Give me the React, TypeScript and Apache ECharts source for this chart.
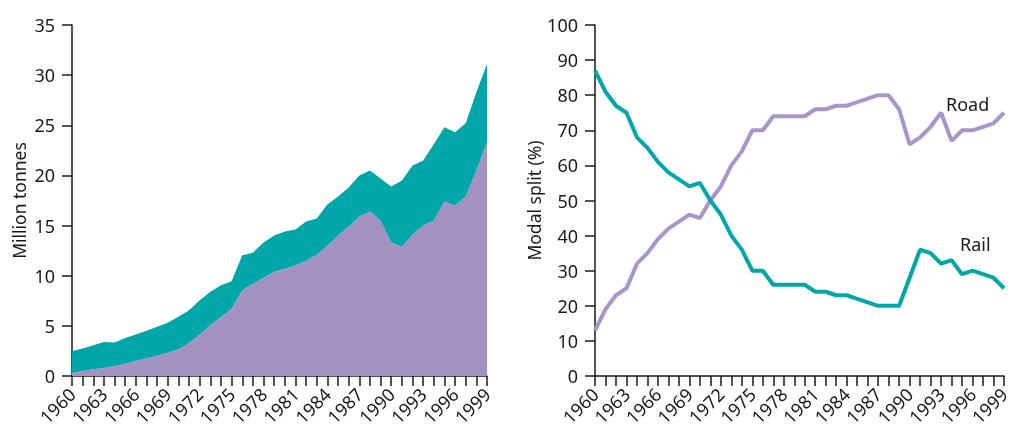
import React, { useEffect, useRef } from "react";
import * as echarts from "echarts";

const years: string[] = [];
for (let y = 1960; y <= 1999; y++) years.push(String(y));

// Left: tonnage (million tonnes)
const roadTonnes = [
  0.3, 0.5, 0.67, 0.8, 1.0, 1.23, 1.5, 1.77, 2.03, 2.33,
  2.66, 3.3, 4.13, 5.06, 5.9, 6.7, 8.55, 9.2, 9.8, 10.4,
  10.7, 11.05, 11.5, 12.1, 13.0, 14.0, 14.9, 15.9, 16.4, 15.5,
  13.3, 12.9, 14.1, 15.0, 15.5, 17.4, 17.0, 17.9, 20.5, 23.3,
];
const totalTonnes = [
  2.46, 2.73, 3.06, 3.4, 3.33, 3.8, 4.13, 4.5, 4.9, 5.3,
  5.9, 6.56, 7.55, 8.4, 9.05, 9.45, 12.05, 12.3, 13.3, 14.0,
  14.4, 14.6, 15.4, 15.7, 17.1, 17.9, 18.8, 20.0, 20.5, 19.7,
  18.9, 19.5, 21.0, 21.5, 23.1, 24.8, 24.3, 25.2, 28.3, 31.1,
];
const railTonnes = totalTonnes.map((t, i) => +(t - roadTonnes[i]).toFixed(2));

// Right: modal split (%)
const railShare = [
  87, 81, 77, 75, 68, 65, 61, 58, 56, 54,
  55, 50, 46, 40, 36, 30, 30, 26, 26, 26,
  26, 24, 24, 23, 23, 22, 21, 20, 20, 20,
  28, 36, 35, 32, 33, 29, 30, 29, 28, 25,
];
const roadShare = [
  13, 19, 23, 25, 32, 35, 39, 42, 44, 46,
  45, 50, 54, 60, 64, 70, 70, 74, 74, 74,
  74, 76, 76, 77, 77, 78, 79, 80, 80, 76,
  66, 68, 71, 75, 67, 70, 70, 71, 72, 75,
];

const TEAL = "#00a6a8";
const PURPLE_AREA = "#a391c2";
const PURPLE_LINE = "#a796cb";
const FONT = "Noto Sans";
const INK = "#1a1a1a";

export default function App() {
  const ref = useRef<HTMLDivElement>(null);
  useEffect(() => {
    if (!ref.current) return;
    const chart = echarts.init(ref.current, null, { renderer: "svg" });
    const xAxisBase = (gridIndex: number) => ({
      type: "category" as const,
      gridIndex,
      data: years,
      boundaryGap: false,
      axisLine: { lineStyle: { color: INK, width: 1.5 } },
      axisTick: { interval: 0, length: 10, lineStyle: { color: INK, width: 1.5 } },
      axisLabel: {
        interval: 2,
        rotate: 45,
        fontSize: 18,
        color: INK,
        fontFamily: FONT,
        margin: 15,
      },
    });
    const yAxisBase = (gridIndex: number, max: number, interval: number, name: string, gap: number) => ({
      type: "value" as const,
      gridIndex,
      min: 0,
      max,
      interval,
      name,
      nameLocation: "middle" as const,
      nameGap: gap,
      nameTextStyle: { fontSize: 17.5, color: INK, fontFamily: FONT },
      splitLine: { show: false },
      axisLine: { show: true, lineStyle: { color: INK, width: 1.5 } },
      axisTick: { show: true, length: 10, lineStyle: { color: INK, width: 1.5 } },
      axisLabel: { fontSize: 18, color: INK, fontFamily: FONT, margin: 17 },
    });
    chart.setOption({
      animation: false,
      textStyle: { fontFamily: FONT },
      grid: [
        { left: 72, width: 415, top: 25, height: 351, containLabel: false, outerBoundsMode: "none" },
        { left: 595, width: 409, top: 25, height: 351, containLabel: false, outerBoundsMode: "none" },
      ],
      xAxis: [xAxisBase(0), xAxisBase(1)],
      yAxis: [
        yAxisBase(0, 35, 5, "Million tonnes", 44),
        yAxisBase(1, 100, 10, "Modal split (%)", 47),
      ],
      series: [
        {
          type: "line",
          name: "Road",
          xAxisIndex: 0,
          yAxisIndex: 0,
          stack: "t",
          data: roadTonnes,
          symbol: "none",
          lineStyle: { width: 0 },
          areaStyle: { color: PURPLE_AREA, opacity: 1 },
        },
        {
          type: "line",
          name: "Rail",
          xAxisIndex: 0,
          yAxisIndex: 0,
          stack: "t",
          data: railTonnes,
          symbol: "none",
          lineStyle: { width: 0 },
          areaStyle: { color: TEAL, opacity: 1 },
        },
        {
          type: "line",
          name: "Road share",
          xAxisIndex: 1,
          yAxisIndex: 1,
          data: roadShare,
          symbol: "none",
          lineStyle: { width: 4, color: PURPLE_LINE },
        },
        {
          type: "line",
          name: "Rail share",
          xAxisIndex: 1,
          yAxisIndex: 1,
          data: railShare,
          symbol: "none",
          lineStyle: { width: 4, color: TEAL },
        },
      ],
      graphic: [
        { type: "text", left: 421, top: 171, style: { text: "Rail", fill: "#fff", fontSize: 18, fontFamily: FONT } },
        { type: "text", left: 406, top: 240, style: { text: "Road", fill: "#fff", fontSize: 18, fontFamily: FONT } },
        { type: "text", left: 946, top: 95, style: { text: "Road", fill: INK, fontSize: 18, fontFamily: FONT } },
        { type: "text", left: 960, top: 235, style: { text: "Rail", fill: INK, fontSize: 18, fontFamily: FONT } },
      ],
    });
    return () => chart.dispose();
  }, []);
  return (
    <div
      ref={ref}
      style={{ position: "fixed", left: 0, top: 0, width: 1012, height: 428 }}
    />
  );
}
